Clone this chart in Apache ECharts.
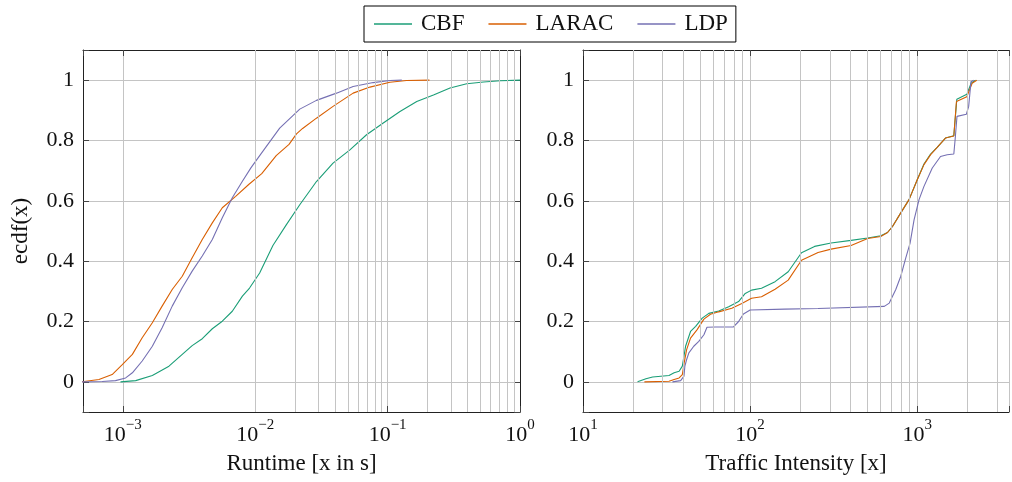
<!DOCTYPE html>
<html><head><meta charset="utf-8">
<script src="https://cdn.jsdelivr.net/npm/echarts@6/dist/echarts.min.js"></script>
<style>html,body{margin:0;padding:0;background:#fff}#c{width:1012px;height:482px}</style>
</head><body><div id="c"></div>
<script>
// ---------------- data ----------------
const seriesNames = ['CBF', 'LARAC', 'LDP'];
const seriesColors = ['#1b9e77', '#d95f02', '#7570b3'];

// Runtime ECDF [runtime in s, ecdf]
const runtimeCBF = [[9.6e-4,0],[1.25e-3,0.004],[1.67e-3,0.021],[2.23e-3,0.052],[2.81e-3,0.091],[3.34e-3,0.120],[3.98e-3,0.143],[4.74e-3,0.176],[5.64e-3,0.201],[6.71e-3,0.234],[8.0e-3,0.284],[9.06e-3,0.311],[1.08e-2,0.361],[1.36e-2,0.452],[1.72e-2,0.521],[2.17e-2,0.587],[2.90e-2,0.664],[3.87e-2,0.725],[5.19e-2,0.769],[6.93e-2,0.819],[9.27e-2,0.858],[0.124,0.896],[0.166,0.929],[0.222,0.951],[0.296,0.974],[0.396,0.988],[0.531,0.994],[0.710,0.998],[1.0,1.0]];
const runtimeLARAC = [[4.9e-4,0],[6.6e-4,0.008],[8.3e-4,0.024],[9.9e-4,0.057],[1.18e-3,0.091],[1.40e-3,0.146],[1.67e-3,0.196],[1.98e-3,0.251],[2.36e-3,0.306],[2.81e-3,0.350],[3.34e-3,0.411],[3.98e-3,0.472],[4.74e-3,0.527],[5.64e-3,0.577],[7.11e-3,0.615],[8.97e-3,0.655],[1.12e-2,0.690],[1.44e-2,0.750],[1.80e-2,0.787],[2.05e-2,0.822],[2.28e-2,0.840],[2.90e-2,0.874],[3.87e-2,0.913],[5.49e-2,0.957],[7.35e-2,0.977],[0.104,0.993],[0.139,0.999],[0.207,1.0]];
const runtimeLDP = [[4.9e-4,0],[6.98e-4,0.001],[8.8e-4,0.004],[1.05e-3,0.013],[1.18e-3,0.030],[1.40e-3,0.069],[1.67e-3,0.118],[1.98e-3,0.179],[2.36e-3,0.251],[2.81e-3,0.312],[3.34e-3,0.367],[3.98e-3,0.417],[4.74e-3,0.472],[5.64e-3,0.544],[6.71e-3,0.610],[8.0e-3,0.665],[9.3e-3,0.710],[1.14e-2,0.764],[1.53e-2,0.841],[2.17e-2,0.904],[2.90e-2,0.933],[4.11e-2,0.957],[5.49e-2,0.979],[7.78e-2,0.992],[0.104,0.999],[0.128,1.0]];

// Traffic intensity ECDF [traffic intensity, ecdf]
const trafficCBF = [[21.2,0],[23.8,0.010],[26.1,0.016],[32.7,0.021],[35.1,0.030],[37.6,0.035],[39.3,0.052],[40.2,0.085],[41.1,0.118],[44.0,0.167],[47.2,0.184],[51.7,0.211],[56.6,0.227],[64.9,0.235],[74.4,0.249],[85.3,0.266],[93.5,0.293],[102,0.304],[117,0.310],[141,0.332],[169,0.365],[203,0.428],[243,0.449],[305,0.460],[402,0.469],[505,0.477],[605,0.484],[664,0.495],[711,0.515],[797,0.560],[893,0.604],[1000,0.670],[1097,0.722],[1202,0.755],[1316,0.777],[1475,0.808],[1655,0.816],[1700,0.820],[1725,0.937],[1980,0.953],[2030,0.955],[2100,0.990],[2230,1.0]];
const trafficLARAC = [[23.3,0],[32.7,0.002],[35.1,0.008],[37.6,0.013],[39.3,0.024],[40.3,0.063],[41.7,0.107],[44.0,0.145],[48.2,0.173],[52.9,0.208],[57.9,0.224],[64.9,0.232],[77.7,0.244],[89.2,0.260],[102,0.277],[117,0.282],[141,0.307],[169,0.337],[203,0.403],[255,0.429],[305,0.440],[402,0.452],[505,0.475],[605,0.482],[664,0.495],[711,0.515],[797,0.560],[893,0.604],[1000,0.670],[1097,0.720],[1202,0.753],[1316,0.777],[1475,0.808],[1655,0.815],[1700,0.818],[1716,0.929],[1980,0.945],[2030,0.950],[2130,0.990],[2270,1.0]];
const trafficLDP = [[34.3,0],[38.4,0.004],[40.2,0.019],[40.7,0.052],[41.7,0.074],[43.0,0.096],[46.0,0.118],[49.3,0.134],[52.9,0.156],[55.2,0.181],[62.0,0.182],[79.5,0.182],[85.3,0.200],[91.2,0.225],[100,0.238],[161,0.241],[255,0.243],[635,0.250],[680,0.261],[744,0.306],[797,0.350],[853,0.410],[906,0.460],[957,0.537],[1025,0.604],[1097,0.648],[1230,0.709],[1378,0.747],[1510,0.753],[1655,0.755],[1691,0.813],[1729,0.880],[1967,0.887],[2031,0.913],[2096,0.995],[2173,1.0]];

// axes (right panel's frame runs past the picture edge; visible part up to ~3540)
const runtimeRange = [5e-4, 1];
const trafficRange = [10, 3540];
const ecdfRange = [-0.1, 1.1];
const runtimeMinor = [6e-4,7e-4,8e-4,9e-4,2e-3,3e-3,4e-3,5e-3,6e-3,7e-3,8e-3,9e-3,2e-2,3e-2,4e-2,5e-2,6e-2,7e-2,8e-2,9e-2,0.2,0.3,0.4,0.5,0.6,0.7,0.8,0.9];
const trafficMinor = [20,30,40,50,60,70,80,90,200,300,400,500,600,700,800,900,2000,3000];
const xTitles = ['Runtime [x in s]', 'Traffic Intensity [x]'];
const yTitle = 'ecdf(x)';

// ---------------- chart ----------------
const FONT = 'Liberation Serif';
const GRID_COLOR = '#c4c4c4';
const chart = echarts.init(document.getElementById('c'), null, {renderer: 'canvas'});

function powLabel(v) {
  const l = Math.log10(v);
  const e = Math.round(l);
  if (Math.abs(l - e) > 1e-6) return '';
  const es = e < 0 ? '\u2212' + (-e) : String(e);
  return '{b|10}{s|' + es + '}';
}
function yLabel(v) {
  if (Math.abs(v * 5 - Math.round(v * 5)) > 1e-6) return '';
  return String(Math.round(v * 10) / 10);
}
const richSup = {
  b: {fontFamily: FONT, fontSize: 22, color: '#111', verticalAlign: 'bottom', lineHeight: 28},
  s: {fontFamily: FONT, fontSize: 15, color: '#111', verticalAlign: 'top', lineHeight: 15}
};

function xMain(grid, range, title, nameGap) {
  return {
    gridIndex: grid, type: 'log', logBase: 10, min: range[0], max: range[1],
    name: title, nameLocation: 'middle', nameGap: 40,
    nameTextStyle: {fontFamily: FONT, fontSize: 23, color: '#111'},
    axisLine: {show: true, onZero: false, lineStyle: {color: '#222', width: 1}},
    axisTick: {show: true, inside: true, length: 6, lineStyle: {color: '#444'}},
    axisLabel: {show: true, margin: 6, formatter: powLabel, rich: richSup, hideOverlap: false},
    splitLine: {show: true, lineStyle: {color: GRID_COLOR, width: 1}},
    minorTick: {show: false}, minorSplitLine: {show: false}
  };
}
function xTop(grid, range) {
  return {
    gridIndex: grid, type: 'log', logBase: 10, min: range[0], max: range[1], position: 'top',
    axisLine: {show: true, onZero: false, lineStyle: {color: '#222', width: 1}},
    axisTick: {show: true, inside: true, length: 6, lineStyle: {color: '#444'}},
    axisLabel: {show: false}, splitLine: {show: false}
  };
}
function yMain(grid, withName) {
  return {
    gridIndex: grid, type: 'value', min: ecdfRange[0], max: ecdfRange[1], splitNumber: 6,
    name: withName ? yTitle : '', nameLocation: 'middle', nameGap: 51,
    nameTextStyle: {fontFamily: FONT, fontSize: 23, color: '#111'},
    axisLine: {show: true, onZero: false, lineStyle: {color: '#222', width: 1}},
    axisTick: {show: true, inside: true, length: 6, lineStyle: {color: '#444'}},
    axisLabel: {show: true, margin: 9, formatter: yLabel, fontFamily: FONT, fontSize: 22, color: '#111'},
    splitLine: {show: true, showMinLine: false, showMaxLine: false, lineStyle: {color: GRID_COLOR, width: 1}}
  };
}
function yRight(grid, visible) {
  return {
    gridIndex: grid, type: 'value', min: ecdfRange[0], max: ecdfRange[1], splitNumber: 6, position: 'right',
    axisLine: {show: visible, onZero: false, lineStyle: {color: '#222', width: 1}},
    axisTick: {show: visible, inside: true, length: 6, lineStyle: {color: '#444'}},
    axisLabel: {show: false}, splitLine: {show: false}
  };
}
function minorSeries(xi, yi, values) {
  return {
    type: 'line', xAxisIndex: xi, yAxisIndex: yi, data: [], z: 1, silent: true,
    markLine: {
      silent: true, symbol: 'none', animation: false,
      label: {show: false},
      lineStyle: {color: GRID_COLOR, type: 'solid', width: 1},
      emphasis: {disabled: true},
      data: values.map(v => ({xAxis: v}))
    }
  };
}
function dataSeries(name, idx, xi, yi, data) {
  return {
    name: name, type: 'line', xAxisIndex: xi, yAxisIndex: yi, data: data,
    showSymbol: false, symbol: 'none', smooth: false, z: 3,
    lineStyle: {color: seriesColors[idx], width: 1.1},
    itemStyle: {color: seriesColors[idx]}
  };
}

const option = {
  animation: false,
  backgroundColor: '#fff',
  legend: {
    left: 364, top: 6,
    data: seriesNames,
    icon: 'rect',
    padding: [6, 8, 6, 10],
    borderColor: '#000', borderWidth: 1,
    itemGap: 24, itemWidth: 38, itemHeight: 1.5,
    textStyle: {fontFamily: FONT, fontSize: 23, color: '#111', padding: [0, 0, 0, 4], lineHeight: 24}
  },
  grid: [
    {left: 83, top: 50, width: 437, height: 362},
    {left: 583, top: 50, width: 429, height: 362}
  ],
  xAxis: [
    xMain(0, runtimeRange, xTitles[0]),
    xTop(0, runtimeRange),
    xMain(1, trafficRange, xTitles[1]),
    xTop(1, trafficRange)
  ],
  yAxis: [yMain(0, true), yRight(0, true), yMain(1, false), yRight(1, false)],
  series: [
    minorSeries(0, 0, runtimeMinor),
    minorSeries(2, 2, trafficMinor),
    dataSeries(seriesNames[0], 0, 0, 0, runtimeCBF),
    dataSeries(seriesNames[1], 1, 0, 0, runtimeLARAC),
    dataSeries(seriesNames[2], 2, 0, 0, runtimeLDP),
    dataSeries(seriesNames[0], 0, 2, 2, trafficCBF),
    dataSeries(seriesNames[1], 1, 2, 2, trafficLARAC),
    dataSeries(seriesNames[2], 2, 2, 2, trafficLDP)
  ]
};
chart.setOption(option);
</script>
</body></html>
